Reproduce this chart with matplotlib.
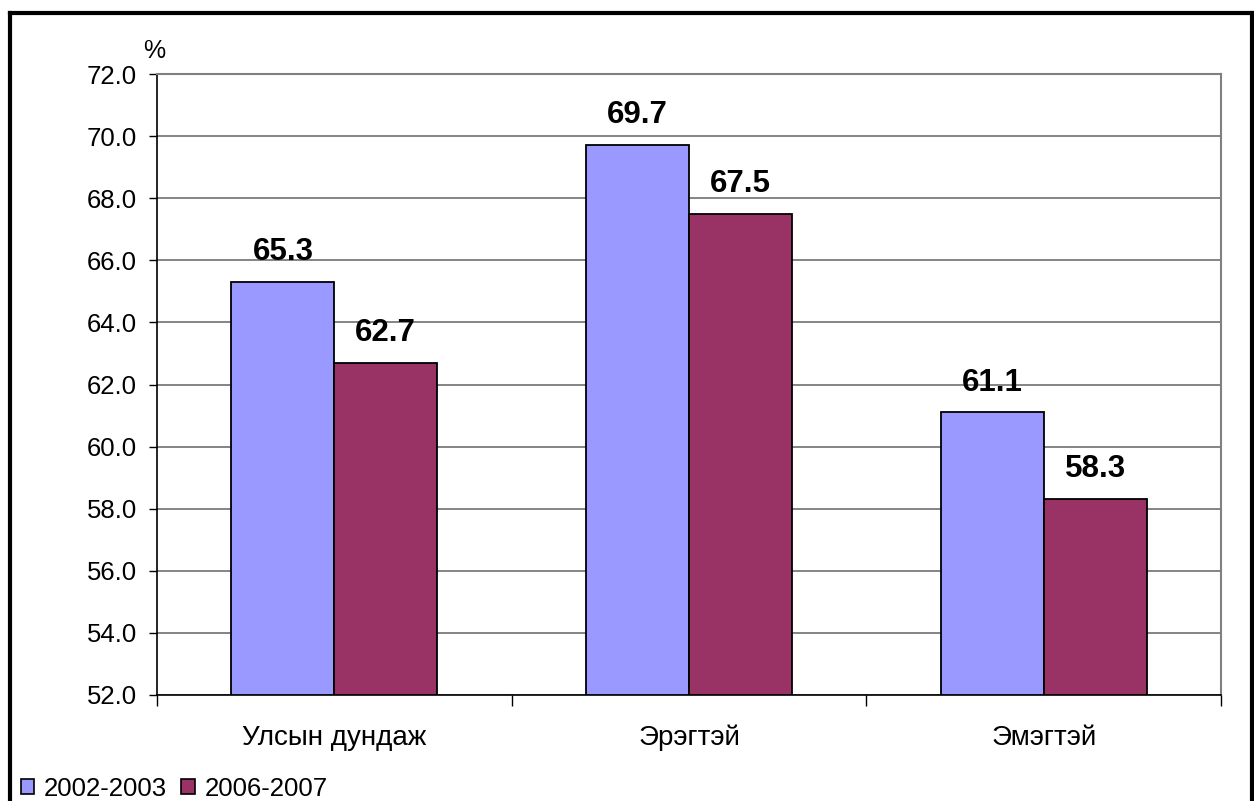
import matplotlib
matplotlib.use("Agg")
import matplotlib.pyplot as plt
from matplotlib.lines import Line2D
from matplotlib.patches import Patch
import numpy as np

categories = ["Улсын дундаж", "Эрэгтэй", "Эмэгтэй"]
series_names = ["2002-2003", "2006-2007"]
values_2002 = [65.3, 69.7, 61.1]
values_2006 = [62.7, 67.5, 58.3]
yticks = [52.0, 54.0, 56.0, 58.0, 60.0, 62.0, 64.0, 66.0, 68.0, 70.0, 72.0]

colors = ["#9999FF", "#993366"]

plt.rcParams['font.family'] = ['Liberation Sans', 'DejaVu Sans']

W, H = 1254, 801
fig = plt.figure(figsize=(W / 100, H / 100), dpi=100)
ax = fig.add_axes([157 / W, 1 - 695 / H, (1221 - 157) / W, (695 - 74) / H])

x = np.arange(len(categories))
bw = 0.29
for i, (vals, c) in enumerate(zip([values_2002, values_2006], colors)):
    pos = x + (i - 0.5) * bw
    ax.bar(pos, [v - 52.0 for v in vals], bottom=52.0, width=bw,
           color=c, edgecolor="black", linewidth=1.3, zorder=3)
    for p, v in zip(pos, vals):
        ax.annotate(f"{v:.1f}", (p, v), xytext=(0, 15.8), textcoords="offset points",
                    ha="center", va="baseline", fontsize=22.5, fontweight="bold", zorder=4)

ax.set_xlim(-0.5, len(categories) - 0.5)
ax.set_ylim(52.0, 72.0)
ax.set_yticks(yticks)
ax.set_yticklabels([f"{t:.1f}" for t in yticks], fontsize=18.5)
ax.yaxis.grid(True, color="#707070", linewidth=1.2, zorder=0)
ax.set_axisbelow(True)

# x ticks at category boundaries, labels at centers
ax.set_xticks(np.arange(-0.5, len(categories), 1.0))
ax.set_xticklabels([])
ax.set_xticks(x, minor=True)
ax.set_xticklabels(categories, minor=True, fontsize=20)
ax.tick_params(axis="x", which="major", direction="out", length=8, width=1, color="black")
ax.tick_params(axis="x", which="minor", length=0, pad=21.5)
ax.tick_params(axis="y", direction="out", length=6, width=1, color="black", pad=8.5)

for s in ["top", "right"]:
    ax.spines[s].set_color("#808080")
    ax.spines[s].set_linewidth(1.5)
ax.spines["left"].set_color("black")
ax.spines["bottom"].set_color("black")
ax.spines["left"].set_linewidth(1.2)
ax.spines["bottom"].set_linewidth(1.2)

fig.text(154 / W, 1 - 51 / H, "%", fontsize=18, ha="center", va="center")

# outer chart frame (partly cropped)
fig.add_artist(Line2D([10 / W, 1252 / W], [1 - 13 / H, 1 - 13 / H], color="black", lw=3, transform=fig.transFigure))
fig.add_artist(Line2D([10 / W, 10 / W], [0, 1 - 13 / H], color="black", lw=3, transform=fig.transFigure))
fig.add_artist(Line2D([1252 / W, 1252 / W], [0, 1 - 13 / H], color="black", lw=3, transform=fig.transFigure))

handles = [Patch(facecolor=c, edgecolor="black", linewidth=1.2) for c in colors]
fig.legend(handles, series_names, loc="lower left", bbox_to_anchor=(21 / W, 0.5 / H),
           ncol=2, frameon=False, fontsize=18.5, handlelength=0.52, handleheight=0.52,
           handletextpad=0.38, columnspacing=0.55, borderaxespad=0, borderpad=0)

fig.savefig("out.png", dpi=100)
